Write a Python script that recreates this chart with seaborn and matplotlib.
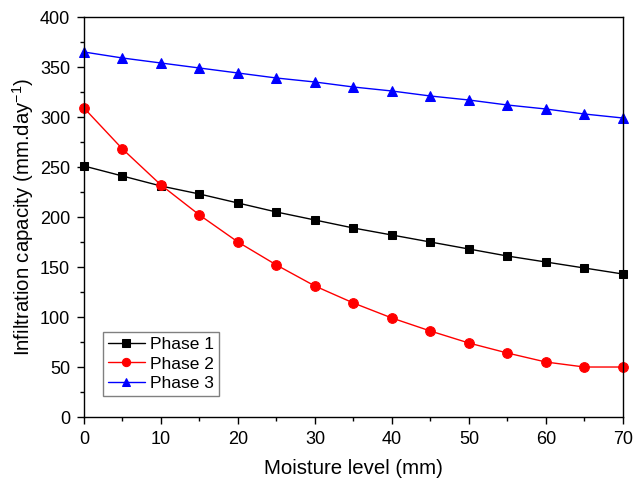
import matplotlib
matplotlib.use("Agg")
import matplotlib.pyplot as plt
import seaborn as sns
import pandas as pd
from matplotlib.ticker import MultipleLocator

moisture = [0, 5, 10, 15, 20, 25, 30, 35, 40, 45, 50, 55, 60, 65, 70]
phase1 = [251, 241, 231, 223, 214, 205, 197, 189, 182, 175, 168, 161, 155, 149, 143]
phase2 = [309, 268, 232, 202, 175, 152, 131, 114, 99, 86, 74, 64, 55, 50, 50]
phase3 = [365, 359, 354, 349, 344, 339, 335, 330, 326, 321, 317, 312, 308, 303, 299]
labels = ["Phase 1", "Phase 2", "Phase 3"]

sns.set_theme(style="ticks")
plt.rcParams["font.family"] = ["Liberation Sans", "DejaVu Sans"]
plt.rcParams["mathtext.default"] = "regular"
plt.rcParams["text.color"] = "black"
plt.rcParams["axes.labelcolor"] = "black"

fig = plt.figure(figsize=(6.33, 4.83), dpi=100)
ax = fig.add_axes([0.1327, 0.1366, 0.8513, 0.8282])

series = [(phase1, "black", "s", 6), (phase2, "red", "o", 7), (phase3, "blue", "^", 7.5)]
for (vals, col, mk, ms), lab in zip(series, labels):
    sns.lineplot(x=moisture, y=vals, ax=ax, color=col, marker=mk, markersize=ms,
                 markeredgecolor=col, linewidth=1, label=lab, clip_on=False)

ax.set_xlim(0, 70)
ax.set_ylim(0, 400)
ax.xaxis.set_major_locator(MultipleLocator(10))
ax.xaxis.set_minor_locator(MultipleLocator(5))
ax.yaxis.set_major_locator(MultipleLocator(50))
ax.yaxis.set_minor_locator(MultipleLocator(25))
ax.tick_params(which="major", direction="out", length=5, width=1, labelsize=13, pad=5,
               color="black", labelcolor="black")
ax.tick_params(which="minor", direction="out", length=3, width=1, color="black")
ax.tick_params(top=False, right=False, which="both")
for sp in ax.spines.values():
    sp.set_visible(True)
    sp.set_color("black")
    sp.set_linewidth(1)

ax.set_xlabel("Moisture level (mm)", fontsize=14.7, color="black", labelpad=8)
ax.set_ylabel("Infiltration capacity (mm.day$^{-1}$)", fontsize=14.7, color="black", labelpad=3)

leg = ax.legend(loc="lower left", bbox_to_anchor=(0.035, 0.052), fontsize=12.5, frameon=True,
                fancybox=False, edgecolor="#606060", handlelength=2.1, borderpad=0.3,
                labelspacing=0.25, handletextpad=0.3, borderaxespad=0, markerscale=0.85)
leg.get_frame().set_linewidth(1)
for t in leg.get_texts():
    t.set_color("black")

fig.savefig("out.png", dpi=100)
